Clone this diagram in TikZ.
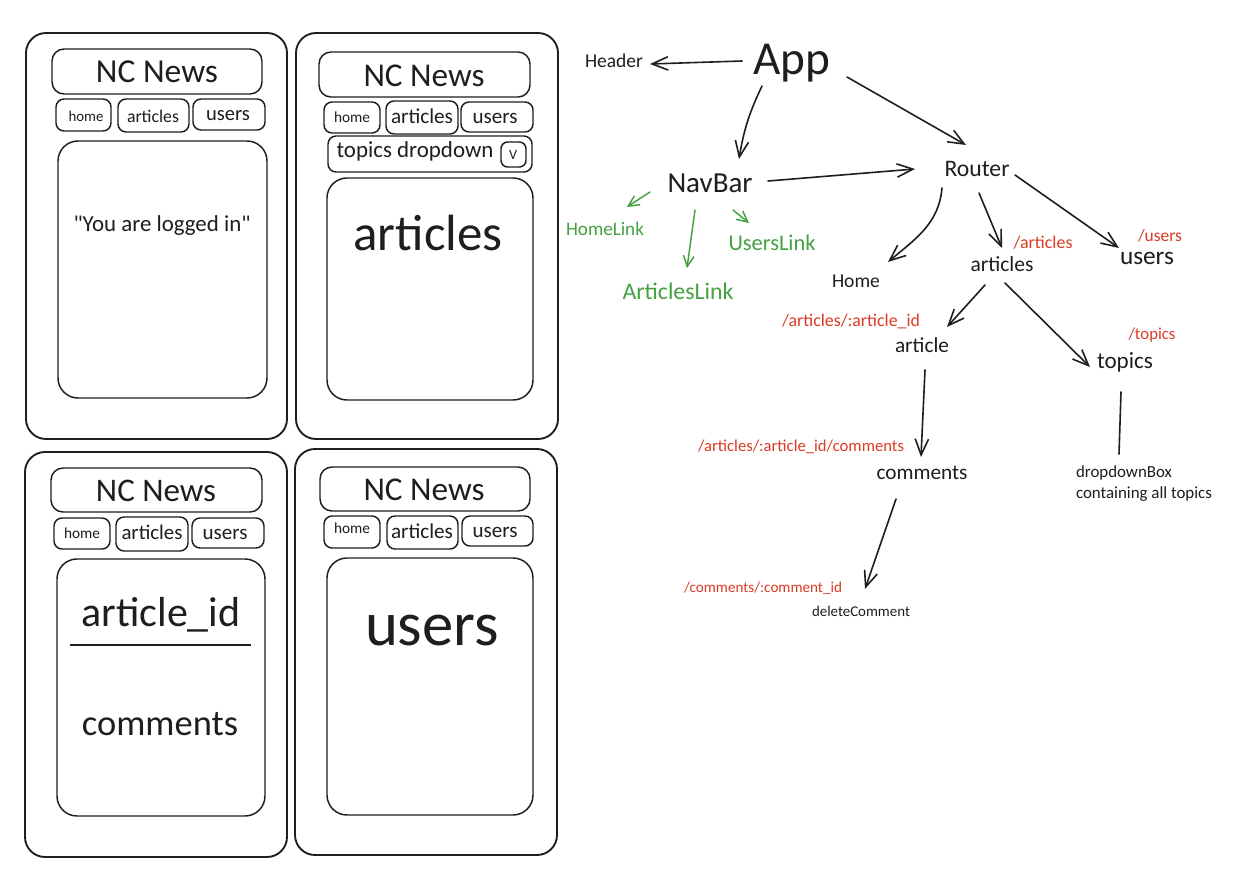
\documentclass[tikz,border=0pt]{standalone}
\usepackage{fontspec}
\setmainfont{Carlito}
\newfontfamily\plainq{Carlito}
\usetikzlibrary{arrows.meta,calc}
\newlength\px \setlength\px{0.75pt}
\newcommand\tw[2]{\resizebox{#1\px}{!}{#2}}
\definecolor{ink}{HTML}{1E1E1E}
\definecolor{grn}{HTML}{45A042}
\definecolor{rd}{HTML}{DB3B24}
\tikzset{
  frame/.style={draw=ink, line width=1.4pt, rounded corners=15pt},
  panel/.style={draw=ink, line width=1.1pt, rounded corners=15pt},
  hbox/.style={draw=ink, line width=1.1pt, rounded corners=9pt},
  btn/.style={draw=ink, line width=1.1pt, rounded corners=6pt},
  txt/.style={inner sep=0pt, text=ink},
  gtxt/.style={inner sep=0pt, text=grn},
  rtxt/.style={inner sep=0pt, text=rd},
  arr/.style={draw=ink, line width=1.2pt, line cap=round, -{Straight Barb[length=12pt,width=10pt]}},
  garr/.style={draw=grn, line width=1.1pt, line cap=round, -{Straight Barb[length=8pt,width=8pt]}},
  plain/.style={draw=ink, line width=1.2pt, line cap=round}
}
\begin{document}
\begin{tikzpicture}[x=0.75pt,y=-0.75pt]
\useasboundingbox[fill=white] (0,0) rectangle (1242,881);

% ---------- Frame 1 ----------
\draw[frame] (26,33) rectangle (287,439);
\draw[hbox] (52,49) rectangle (262,94);
\draw[btn] (56,99) rectangle (111,131);
\draw[btn] (118,99) rectangle (189,132);
\draw[btn] (193,99) rectangle (265,130);
\draw[panel] (58,141) rectangle (267,398);
\node[txt] (f1title) at (157,72) {\tw{122}{NC News}};
\node[txt] (f1home) at (86,116) {\tw{35}{home}};
\node[txt] (f1art) at (153,116) {\tw{52}{articles}};
\node[txt] (f1usr) at (228,116) {\tw{44}{users}};
\node[txt] (f1msg) at (162,226) {\tw{177}{\plainq "You are logged in"}};

% ---------- Frame 2 ----------
\draw[frame] (296,33) rectangle (558,439);
\draw[hbox] (319,52) rectangle (530,97);
\draw[btn] (324,102) rectangle (380,133);
\draw[btn] (386,101) rectangle (458,134);
\draw[btn] (461,102) rectangle (533,132);
\draw[btn] (328,136) rectangle (532,172);
\draw[btn, rounded corners=5pt] (501,142) rectangle (526,167);
\draw[panel] (327,178) rectangle (533,400);
\node[txt] (f2title) at (424,76) {\tw{121}{NC News}};
\node[txt] (f2home) at (352,117) {\tw{36}{home}};
\node[txt] (f2art) at (422,116) {\tw{62}{articles}};
\node[txt] (f2usr) at (495,118) {\tw{45}{users}};
\node[txt] (f2drop) at (415,151) {\tw{157}{topics dropdown}};
\node[txt] (f2v) at (513,155) {\tw{8}{V}};
\node[txt] (f2big) at (428,233) {\tw{149}{articles}};

% ---------- Frame 3 ----------
\draw[frame] (25,452) rectangle (287,857);
\draw[hbox] (51,468) rectangle (262,512);
\draw[btn] (54,518) rectangle (110,549);
\draw[btn] (116,517) rectangle (188,551);
\draw[btn] (192,518) rectangle (264,548);
\draw[panel] (57,559) rectangle (265,816);
\draw[draw=ink, line width=1.3pt] (70,645) -- (251,645);
\node[txt] (f3title) at (156,491) {\tw{120}{NC News}};
\node[txt] (f3home) at (82,533) {\tw{36}{home}};
\node[txt] (f3art) at (152,532) {\tw{61}{articles}};
\node[txt] (f3usr) at (225,534) {\tw{45}{users}};
\node[txt] (f3id) at (161,615) {\tw{159}{article\_id}};
\node[txt] (f3com) at (160,724) {\tw{156}{comments}};

% ---------- Frame 4 ----------
\draw[frame] (295,449) rectangle (557,855);
\draw[hbox] (320,467) rectangle (530,511);
\draw[btn] (324,516) rectangle (380,548);
\draw[btn] (387,516) rectangle (458,549);
\draw[btn] (462,516) rectangle (533,546);
\draw[panel] (327,558) rectangle (533,815);
\node[txt] (f4title) at (424,490) {\tw{121}{NC News}};
\node[txt] (f4home) at (352,528) {\tw{36}{home}};
\node[txt] (f4art) at (422,531) {\tw{62}{articles}};
\node[txt] (f4usr) at (495,532) {\tw{45}{users}};
\node[txt] (f4big) at (432,630) {\tw{134}{users}};

% ---------- Component tree ----------
\node[txt] (app) at (792,63) {\tw{77}{App}};
\node[txt] (header) at (614,61) {\tw{58}{Header}};
\node[txt] (navbar) at (710,183) {\tw{85}{NavBar}};
\node[gtxt] (homelink) at (605,229) {\tw{78}{HomeLink}};
\node[gtxt] (articleslink) at (678,291) {\tw{111}{ArticlesLink}};
\node[gtxt] (userslink) at (772,243) {\tw{87}{UsersLink}};
\node[txt] (router) at (977,169) {\tw{65}{Router}};
\node[txt] (home) at (856,281) {\tw{48}{Home}};
\node[txt] (articles) at (1002,264) {\tw{63}{articles}};
\node[txt] (users) at (1147,258) {\tw{54}{users}};
\node[rtxt] (lblarticles) at (1043,243) {\tw{59}{/articles}};
\node[rtxt] (lblusers) at (1160,236) {\tw{44}{/users}};
\node[txt] (article) at (922,345) {\tw{54}{article}};
\node[rtxt] (lblarticle) at (851,322) {\tw{138}{/articles/:article\_id}};
\node[txt] (topics) at (1125,362) {\tw{56}{topics}};
\node[rtxt] (lbltopics) at (1152,335) {\tw{47}{/topics}};
\node[txt] (comments) at (922,473) {\tw{91}{comments}};
\node[rtxt] (lblcomments) at (801,447) {\tw{206}{/articles/:article\_id/comments}};
\node[txt, align=left] (dropdown) at (1144,484) {\tw{136}{\begin{tabular}{@{}l@{}}dropdownBox\\containing all topics\end{tabular}}};
\node[txt] (deletecomment) at (861,611) {\tw{98}{deleteComment}};
\node[rtxt] (lbldelete) at (763,588) {\tw{158}{/comments/:comment\_id}};

% ---------- Connectors ----------
\draw[arr] ($(app)+(-50,-2)$) -- ($(header)+(36,3)$);
\draw[arr] ($(app)+(-30,23)$) to[bend right=8] ($(navbar)+(29,-24)$);
\draw[arr] ($(app)+(55,14)$) -- ($(router)+(-11,-24)$);
\draw[arr] ($(navbar)+(58,-2)$) -- ($(router)+(-62,0)$);
\draw[garr] ($(navbar)+(-60,9)$) -- ($(homelink)+(22,-22)$);
\draw[garr] ($(navbar)+(-15,27)$) -- ($(articleslink)+(9,-23)$);
\draw[garr] ($(navbar)+(23,27)$) -- ($(userslink)+(-23,-20)$);
\draw[arr] ($(router)+(-35,19)$) to[out=-95,in=40] ($(home)+(32,-19)$);
\draw[arr] ($(router)+(2,24)$) -- ($(articles)+(0,-16)$);
\draw[arr] ($(router)+(38,6)$) -- ($(users)+(-28,-10)$);
\draw[arr] ($(articles)+(-17,21)$) -- ($(article)+(25,-18)$);
\draw[arr] ($(articles)+(3,19)$) -- ($(topics)+(-35,5)$);
\draw[arr] ($(article)+(3,25)$) -- ($(comments)+(-1,-16)$);
\draw[plain] ($(topics)+(-4,30)$) -- ($(dropdown)+(-25,-30)$);
\draw[arr] ($(comments)+(-26,26)$) -- ($(deletecomment)+(4,-22)$);
\end{tikzpicture}
\end{document}
